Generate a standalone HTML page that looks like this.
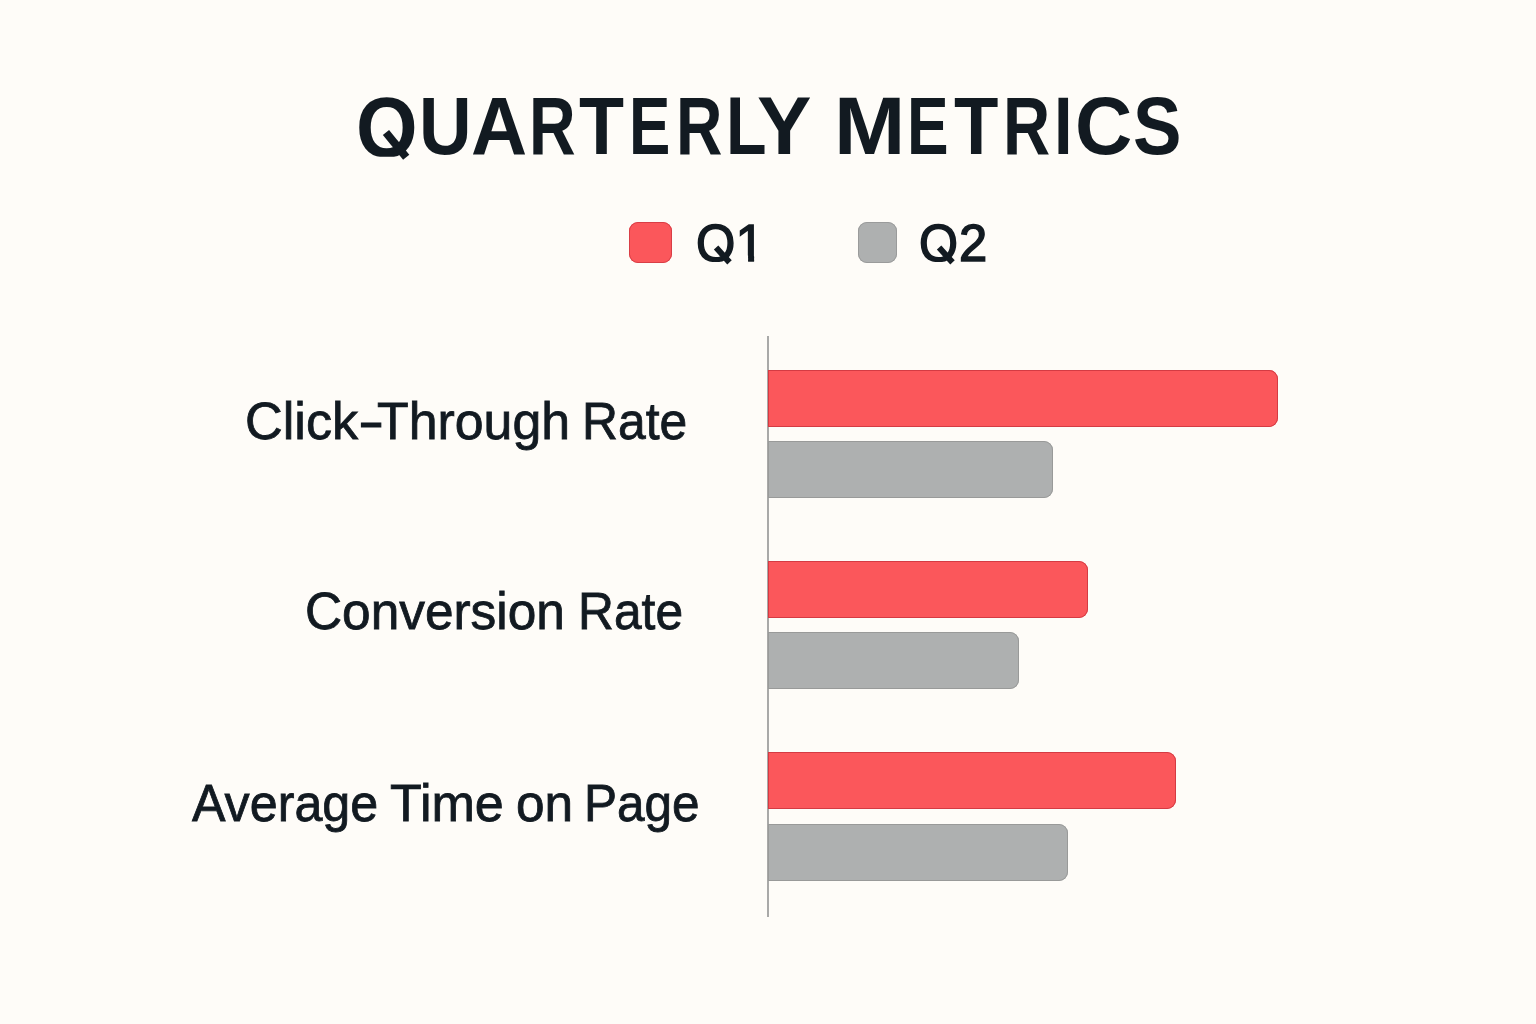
<!DOCTYPE html>
<html>
<head>
<meta charset="utf-8">
<title>Quarterly Metrics</title>
<style>
html,body{margin:0;padding:0;overflow:hidden;}
body{width:1536px;height:1024px;background:#fefcf8;position:relative;overflow:hidden;font-family:"Liberation Sans",sans-serif;color:#121a21;}
span{position:absolute;white-space:nowrap;line-height:1;transform-origin:0 0;}
h1{margin:0;font-size:81.5px;font-weight:bold;}
.lt{font-size:52px;-webkit-text-stroke:1.5px #121a21;}
.lb{font-size:51.7px;-webkit-text-stroke:0.8px #121a21;}
.qt{position:absolute;background:#121a21;transform-origin:50% 50%;}
.sq{position:absolute;border-radius:9px;}
#sq1{left:629px;top:222px;width:43px;height:41px;background:#fb575b;box-shadow:inset 0 0 0 1px #d83e46;}
#sq2{left:858px;top:222px;width:39px;height:41px;background:#aeb0b0;box-shadow:inset 0 0 0 1px #9a9b9b;}
#axis{position:absolute;left:767px;top:336px;width:2px;height:581px;background:#a9a9a8;}
.bar{position:absolute;left:768px;height:57px;border-radius:0 9px 9px 0;}
.r{background:#fb575b;box-shadow:inset 0 0 0 1px #d43b43;}
.g{background:#aeb0b0;box-shadow:inset 0 0 0 1px #999a99;}
</style>
</head>
<body>
<h1><span class="tl" style="left:356.1px;top:84.94px;transform:scale(0.972,1.039);clip-path:inset(0 0 12.5px 0)">Q</span><span class="tl" style="left:419.2px;top:85.2px;transform:scaleX(0.894)">U</span><span class="tl" style="left:471.1px;top:85.2px;transform:scaleX(0.954)">A</span><span class="tl" style="left:529.4px;top:85.2px;transform:scaleX(0.792)">R</span><span class="tl" style="left:579.4px;top:85.2px;transform:scaleX(0.904)">T</span><span class="tl" style="left:629.4px;top:85.2px;transform:scaleX(0.761)">E</span><span class="tl" style="left:675.5px;top:85.2px;transform:scaleX(0.788)">R</span><span class="tl" style="left:725.6px;top:85.2px;transform:scaleX(0.814)">L</span><span class="tl" style="left:756.9px;top:85.2px;transform:scaleX(1.002)">Y</span> <span class="tl" style="left:833.6px;top:85.2px;transform:scaleX(1.051)">M</span><span class="tl" style="left:907.2px;top:85.2px;transform:scaleX(0.765)">E</span><span class="tl" style="left:954.1px;top:85.2px;transform:scaleX(0.892)">T</span><span class="tl" style="left:1003.0px;top:85.2px;transform:scaleX(0.802)">R</span><span class="tl" style="left:1053.9px;top:85.2px;transform:scaleX(0.817)">I</span><span class="tl" style="left:1074.6px;top:85.2px;transform:scaleX(0.974)">C</span><span class="tl" style="left:1133.4px;top:85.2px;transform:scaleX(0.892)">S</span></h1>
<i class="qt" style="left:380.30px;top:140.80px;width:32.4px;height:8px;transform:rotate(50.7deg)"></i>
<div class="sq" id="sq1"></div>
<span class="lt" style="left:695.9px;top:217.0px;transform:scaleX(0.973);clip-path:inset(0 0 7px 0)">Q</span><span class="lt" style="left:735.4px;top:217.0px;clip-path:polygon(0 0,100% 0,100% 38.6px,18.7px 38.6px,18.7px 100%,12.7px 100%,12.7px 38.6px,0 38.6px)">1</span>
<i class="qt" style="left:712.70px;top:252.41px;width:19.9px;height:5.5px;transform:rotate(47.9deg)"></i>
<div class="sq" id="sq2"></div>
<span class="lt" style="left:919.3px;top:217.0px;transform:scaleX(0.965);clip-path:inset(0 0 7px 0)">Q</span><span class="lt" style="left:959.3px;top:217.0px;transform:scaleX(0.976)">2</span>
<i class="qt" style="left:936.10px;top:252.41px;width:19.9px;height:5.5px;transform:rotate(47.9deg)"></i>
<div id="axis"></div>
<div><span class="lb" style="left:244.7px;top:396.2px;transform:scaleX(1.01)">Click</span><span class="lb" style="left:358.1px;top:396.2px;transform:scaleX(1.523)">-</span><span class="lb" style="left:376.6px;top:396.2px;transform:scaleX(1.003)">Through</span> <span class="lb" style="left:581.8px;top:396.2px;transform:scaleX(0.964)">Rate</span></div>
<div><span class="lb" style="left:305.4px;top:586.2px;transform:scaleX(0.994)">Conversion</span> <span class="lb" style="left:577.5px;top:586.2px;transform:scaleX(0.962)">Rate</span></div>
<div><span class="lb" style="left:191.8px;top:778.1px;transform:scaleX(0.972)">Average</span> <span class="lb" style="left:390.0px;top:778.1px;transform:scaleX(1.008)">Time</span> <span class="lb" style="left:515.5px;top:778.1px;transform:scaleX(0.994)">on</span> <span class="lb" style="left:584.4px;top:778.1px;transform:scaleX(0.958)">Page</span></div>
<div class="bar r" style="top:370px;width:510px;"></div>
<div class="bar g" style="top:441px;width:285px;"></div>
<div class="bar r" style="top:561px;width:320px;"></div>
<div class="bar g" style="top:632px;width:251px;"></div>
<div class="bar r" style="top:752px;width:408px;"></div>
<div class="bar g" style="top:824px;width:300px;"></div>
</body>
</html>
